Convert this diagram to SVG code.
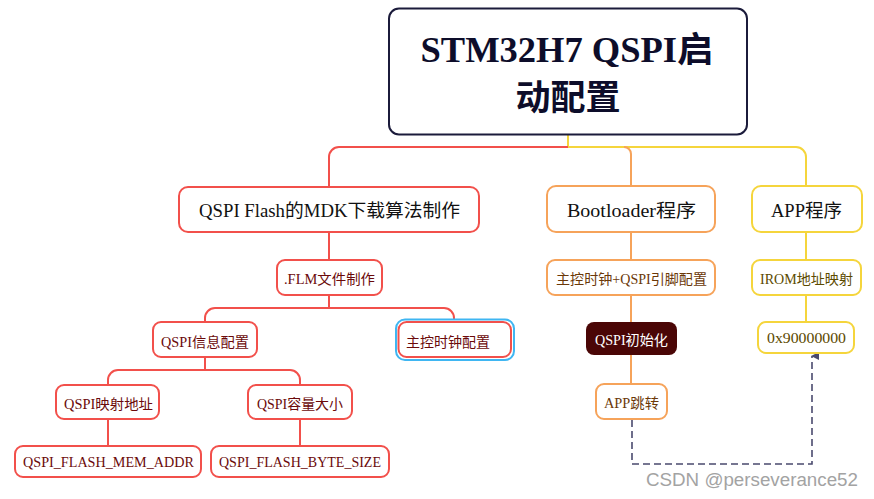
<svg xmlns="http://www.w3.org/2000/svg" width="874" height="499" viewBox="0 0 874 499">
<defs>
<style>
.box{fill:#fff;stroke-width:2}
.r{stroke:#f2504b}
.o{stroke:#f6a35a}
.y{stroke:#f5d53c}
.t{font-family:"Liberation Serif","Noto Sans CJK SC",serif;text-anchor:middle}
.t1{font-size:18px;fill:#111}
.t2{font-size:14px}
.tr{fill:#6b0a0a}
.to{fill:#6b3808}
.ty{fill:#5c4a00}
.ln{fill:none;stroke-width:2}
</style>
<marker id="ah" markerWidth="8" markerHeight="8" refX="4" refY="1" orient="auto" markerUnits="userSpaceOnUse" viewBox="0 0 8 8">
<path d="M0,8 L4,0 L8,8 Z" fill="#4a4a6e"/>
</marker>
</defs>
<rect width="874" height="499" fill="#fff"/>
<g id="connectors">
<path class="ln y" d="M568,134 V147 H796 A10,10 0 0 1 806,157 V186"/>
<path class="ln r" d="M568,147 H339 A10,10 0 0 0 329,157 V187"/>
<path class="ln o" d="M624,147 A7,7 0 0 1 631,154 V186"/>
<path class="ln r" d="M329,232 V260 M329,295 V308 M205,322 V318 A10,10 0 0 1 215,308 H444 A10,10 0 0 1 454,318 V320"/>
<path class="ln r" d="M205,357 V370 M108,385 V380 A10,10 0 0 1 118,370 H290 A10,10 0 0 1 300,380 V385 M108,419 V446 M300,419 V446"/>
<path class="ln o" d="M631,232 V260 M631,295 V322 M631,355 V384"/>
<path class="ln y" d="M806,232 V260 M806,295 V322"/>
<path fill="none" stroke="#4a4a6e" stroke-width="1.6" stroke-dasharray="7,4" d="M632,420 V464 H812 V356" marker-end="url(#ah)"/>
</g>
<g id="root">
<rect x="389" y="8.5" width="358" height="126" rx="10" fill="#fff" stroke="#1b1b3b" stroke-width="2"/>
<text class="t" x="567" y="62" font-size="35" font-weight="bold" fill="#0d0d2a" textLength="293" lengthAdjust="spacingAndGlyphs">STM32H7 QSPI启</text>
<text class="t" x="568" y="110" font-size="35" font-weight="bold" fill="#0d0d2a">动配置</text>
</g>
<g id="n-flash">
<rect class="box r" x="179" y="187" width="300" height="45" rx="9"/>
<text class="t t1" x="329.5" y="216.5" textLength="261" lengthAdjust="spacingAndGlyphs">QSPI Flash的MDK下载算法制作</text>
</g>
<g id="n-boot">
<rect class="box o" x="547" y="186" width="168" height="46" rx="9"/>
<text class="t t1" x="631.5" y="216.5" textLength="129" lengthAdjust="spacingAndGlyphs">Bootloader程序</text>
</g>
<g id="n-app">
<rect class="box y" x="752" y="186" width="110" height="46" rx="9"/>
<text class="t t1" x="806.5" y="216.5" textLength="71" lengthAdjust="spacingAndGlyphs">APP程序</text>
</g>
<g id="n-flm">
<rect class="box r" x="277" y="260" width="105" height="35" rx="8"/>
<text class="t t2 tr" x="329.5" y="284" textLength="91" lengthAdjust="spacingAndGlyphs">.FLM文件制作</text>
</g>
<g id="n-info">
<rect class="box r" x="153" y="322" width="104" height="35" rx="8"/>
<text class="t t2 tr" x="205" y="346.5" textLength="88" lengthAdjust="spacingAndGlyphs">QSPI信息配置</text>
</g>
<g id="n-clk">
<rect x="396" y="319.5" width="118" height="40.5" rx="9" fill="#fff" stroke="#3fb6f2" stroke-width="2"/>
<rect class="box r" x="398.5" y="322" width="112.5" height="35" rx="8"/>
<text class="t t2 tr" x="448" y="346.5" textLength="84" lengthAdjust="spacingAndGlyphs">主控时钟配置</text>
</g>
<g id="n-map">
<rect class="box r" x="56" y="385" width="103" height="34" rx="8"/>
<text class="t t2 tr" x="108.5" y="408.5" textLength="89" lengthAdjust="spacingAndGlyphs">QSPI映射地址</text>
</g>
<g id="n-size">
<rect class="box r" x="248" y="385" width="104" height="34" rx="8"/>
<text class="t t2 tr" x="300" y="408.5" textLength="86" lengthAdjust="spacingAndGlyphs">QSPI容量大小</text>
</g>
<g id="n-addr">
<rect class="box r" x="15" y="446" width="186" height="31" rx="8"/>
<text class="t t2 tr" x="108.5" y="467" textLength="171" lengthAdjust="spacingAndGlyphs">QSPI_FLASH_MEM_ADDR</text>
</g>
<g id="n-bytes">
<rect class="box r" x="211" y="446" width="178" height="31" rx="8"/>
<text class="t t2 tr" x="300" y="467" textLength="162" lengthAdjust="spacingAndGlyphs">QSPI_FLASH_BYTE_SIZE</text>
</g>
<g id="n-pins">
<rect class="box o" x="547" y="260" width="168" height="35" rx="8"/>
<text class="t t2 to" x="631.5" y="284" textLength="151" lengthAdjust="spacingAndGlyphs">主控时钟+QSPI引脚配置</text>
</g>
<g id="n-init">
<rect x="586" y="322" width="91" height="33" rx="8" fill="#4a0606"/>
<text class="t t2" x="631.5" y="345" fill="#fff" textLength="73" lengthAdjust="spacingAndGlyphs">QSPI初始化</text>
</g>
<g id="n-jump">
<rect class="box o" x="596" y="384" width="71" height="35" rx="8"/>
<text class="t t2 to" x="631.5" y="408" textLength="55" lengthAdjust="spacingAndGlyphs">APP跳转</text>
</g>
<g id="n-irom">
<rect class="box y" x="752" y="260" width="109" height="35" rx="8"/>
<text class="t t2 ty" x="806.5" y="284" textLength="93" lengthAdjust="spacingAndGlyphs">IROM地址映射</text>
</g>
<g id="n-addrval">
<rect class="box y" x="758" y="322" width="96" height="31" rx="8"/>
<text class="t t2 ty" x="806.5" y="343" textLength="79" lengthAdjust="spacingAndGlyphs">0x90000000</text>
</g>
<text x="646" y="486" font-family="Liberation Sans,Arial,sans-serif" font-size="17.5" fill="#a3a3a3" textLength="212" lengthAdjust="spacingAndGlyphs">CSDN @perseverance52</text>
</svg>
